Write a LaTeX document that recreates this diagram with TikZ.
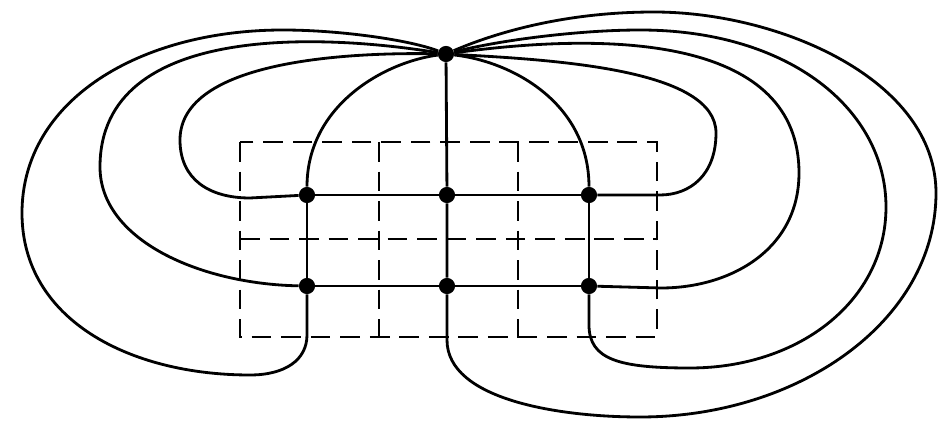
\documentclass[tikz,border=0pt]{standalone}
\begin{document}
\begin{tikzpicture}[x=0.025cm, y=-0.025cm,
        vertex/.style={circle, fill=black, inner sep=0pt, minimum size=11.5pt},
        edge/.style={line width=2pt},
        cell/.style={line width=1.2pt, dash pattern=on 14pt off 7pt}]
            \useasboundingbox (0,0) rectangle (943,426);
            \draw[cell] (240,142) rectangle (657,337);
            \draw[cell] (240,239) -- (657,239);
            \foreach \x in {379,518} {
                \draw[cell] (\x,142) -- (\x,337);
            }
            \node[vertex] (t) at (446,54) {};
            \foreach \x/\n in {307/1,447/2,589/3} {
                \node[vertex] (a\n) at (\x,195) {};
                \node[vertex] (b\n) at (\x,286) {};
            }
            \draw[edge] (a1) -- (a2) -- (a3);
            \draw[edge] (b1) -- (b2) -- (b3);
            \draw[edge] (t) -- (a2) -- (b2);
            \draw[edge] (a1) -- (b1);
            \draw[edge] (a3) -- (b3);
            \draw[edge] (t) .. controls (410,40) and (340,30) .. (283,30) .. controls (140,30) and (22,100) .. (22,213) .. controls (22,320) and (130,375) .. (250,375) .. controls (285,375) and (307,360) .. (307,335) -- (b1);
            \draw[edge] (t) .. controls (330,35) and (100,20) .. (100,167) .. controls (100,240) and (200,284) .. (b1);
            \draw[edge] (t) .. controls (350,52) and (180,60) .. (180,140) .. controls (180,180) and (210,198) .. (250,198) -- (a1);
            \draw[edge] (t) .. controls (385,62) and (307,105) .. (a1);
            \draw[edge] (t) .. controls (515,62) and (589,105) .. (a3);
            \draw[edge] (t) .. controls (560,60) and (716,70) .. (716,133) .. controls (716,175) and (690,195) .. (660,195) -- (a3);
            \draw[edge] (t) .. controls (620,30) and (799,40) .. (799,173) .. controls (799,250) and (730,288) .. (661,288) -- (b3);
            \draw[edge] (t) .. controls (500,40) and (580,30) .. (640,30) .. controls (790,30) and (886,110) .. (886,207) .. controls (886,300) and (800,368) .. (690,368) .. controls (620,368) and (589,360) .. (589,325) -- (b3);
            \draw[edge] (b2) -- (447,340) .. controls (447,400) and (560,417) .. (640,417) .. controls (800,417) and (936,320) .. (936,193) .. controls (936,80) and (780,12) .. (654,12) .. controls (560,12) and (490,35) .. (t);
        \end{tikzpicture}
\end{document}
